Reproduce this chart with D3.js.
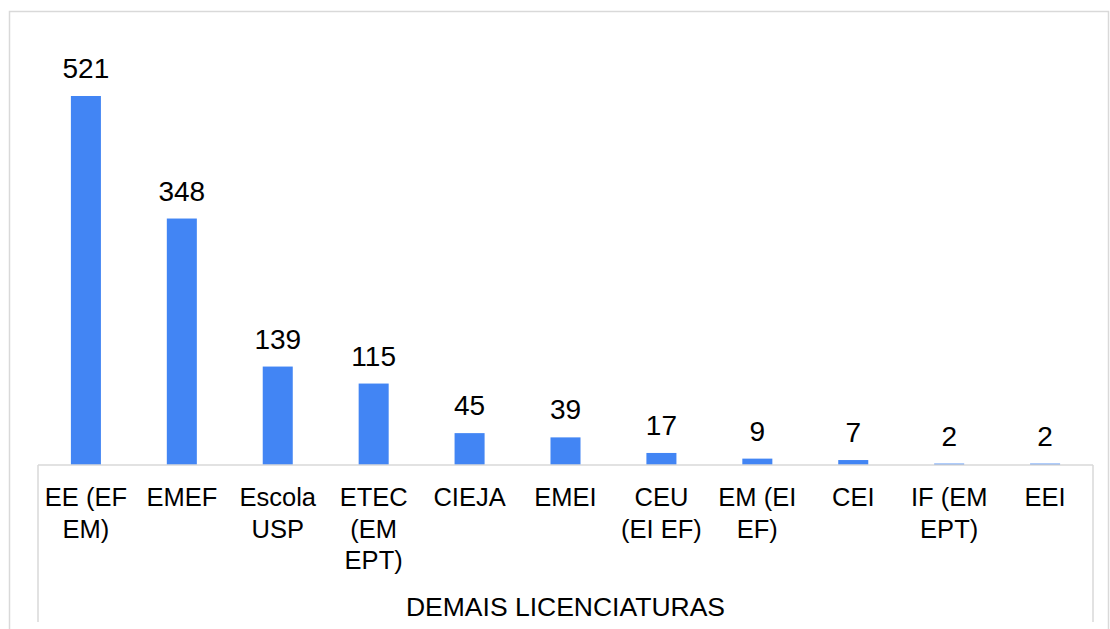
<!DOCTYPE html>
<html>
<head>
<meta charset="utf-8">
<script src="https://cdn.jsdelivr.net/npm/d3@7"></script>
<style>
  html, body { margin: 0; padding: 0; background: #fff; }
  svg { display: block; font-family: Arial, "Liberation Sans", sans-serif; }
</style>
</head>
<body>
<svg id="chart" width="1110" height="629"></svg>
<script>
const categories = ["EE (EF EM)", "EMEF", "Escola USP", "ETEC (EM EPT)", "CIEJA", "EMEI", "CEU (EI EF)", "EM (EI EF)", "CEI", "IF (EM EPT)", "EEI"];
const labelLines = [["EE (EF", "EM)"], ["EMEF"], ["Escola", "USP"], ["ETEC", "(EM", "EPT)"], ["CIEJA"], ["EMEI"], ["CEU", "(EI EF)"], ["EM (EI", "EF)"], ["CEI"], ["IF (EM", "EPT)"], ["EEI"]];
const values = [521, 348, 139, 115, 45, 39, 17, 9, 7, 2, 2];
const groupTitle = "DEMAIS LICENCIATURAS";

const svg = d3.select("#chart");
const left = 38, right = 1093, baseY = 465, topY = 96;
const border = "#d9d9d9";

// outer frame
svg.append("rect").attr("x", 9.5).attr("y", 11.5).attr("width", 1099).attr("height", 700)
  .attr("fill", "none").attr("stroke", border).attr("stroke-width", 1.5);

const x = d3.scaleBand().domain(categories).range([left, right]).paddingInner(0.687).paddingOuter(0.343);
const y = d3.scaleLinear().domain([0, d3.max(values)]).range([baseY, topY]);

// bars
svg.selectAll("rect.bar").data(values).enter().append("rect")
  .attr("class", "bar")
  .attr("x", (d, i) => x(categories[i]))
  .attr("width", x.bandwidth())
  .attr("y", d => y(d))
  .attr("height", d => baseY - y(d))
  .attr("fill", "#4285f4");

// value labels
svg.selectAll("text.val").data(values).enter().append("text")
  .attr("class", "val")
  .attr("x", (d, i) => x(categories[i]) + x.bandwidth() / 2)
  .attr("y", d => y(d) - 18)
  .attr("text-anchor", "middle")
  .attr("font-size", 28)
  .attr("fill", "#000")
  .text(d => d);

// axis box
const axisG = svg.append("g");
axisG.append("line").attr("x1", left).attr("x2", right).attr("y1", baseY).attr("y2", baseY)
  .attr("stroke", border).attr("stroke-width", 1.5);
axisG.append("line").attr("x1", left).attr("x2", left).attr("y1", baseY).attr("y2", 622)
  .attr("stroke", border).attr("stroke-width", 1.5);
axisG.append("line").attr("x1", right).attr("x2", right).attr("y1", baseY).attr("y2", 622)
  .attr("stroke", border).attr("stroke-width", 1.5);

// category labels
const lab = svg.selectAll("text.cat").data(categories).enter().append("text")
  .attr("class", "cat")
  .attr("text-anchor", "middle")
  .attr("font-size", 25.5)
  .attr("fill", "#000");
lab.each(function(d, i) {
  const t = d3.select(this);
  labelLines[i].forEach((line, j) => {
    t.append("tspan")
      .attr("x", x(d) + x.bandwidth() / 2)
      .attr("y", 506 + j * 31.5)
      .text(line);
  });
});

// group title
svg.append("text").attr("x", (left + right) / 2).attr("y", 616)
  .attr("text-anchor", "middle").attr("font-size", 26.5).attr("fill", "#000")
  .text(groupTitle);
</script>
</body>
</html>
